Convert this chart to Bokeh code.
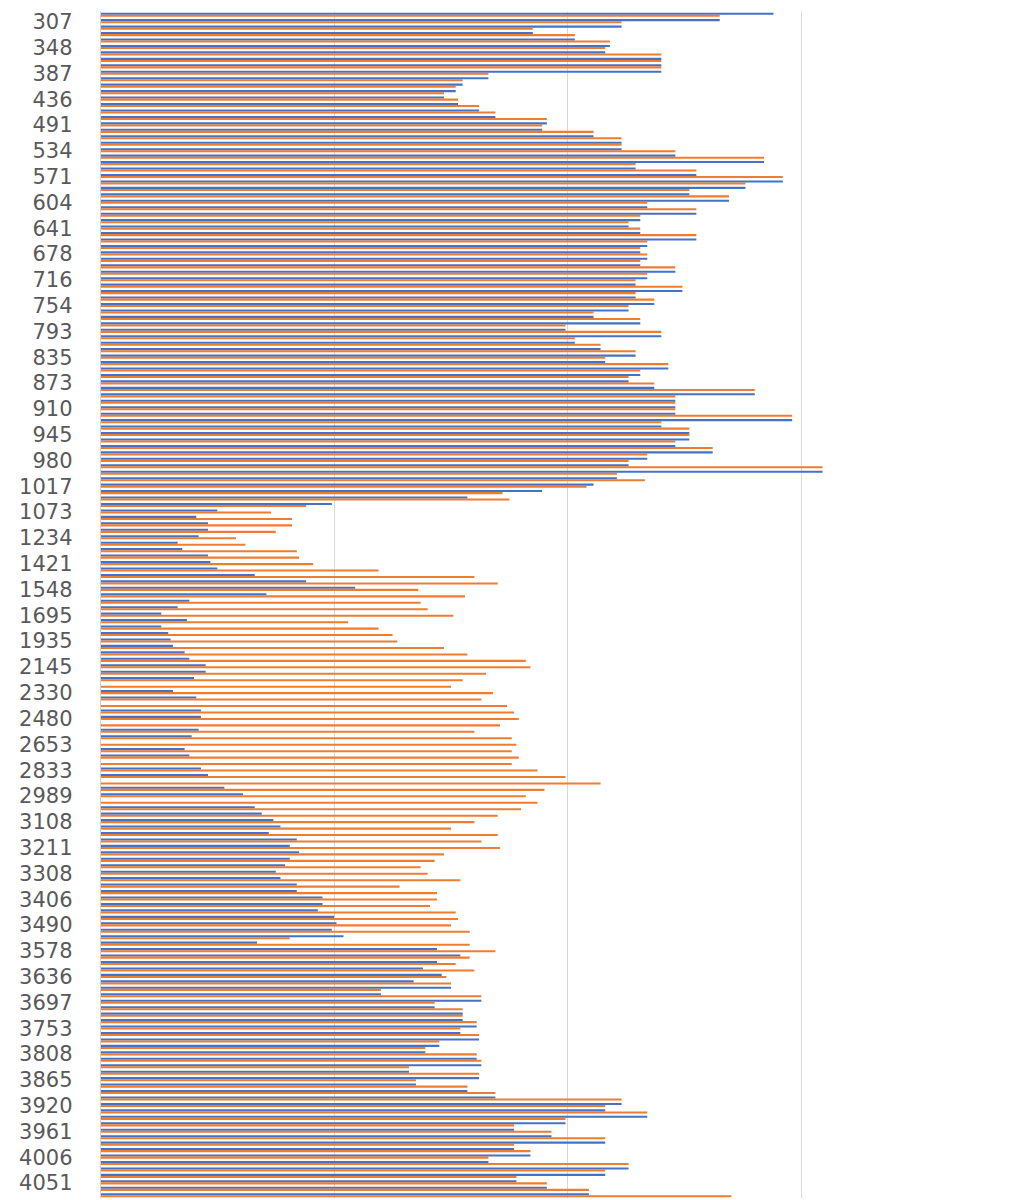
from bokeh.plotting import figure
from bokeh.models import Range1d, FixedTicker, Grid, ColumnDataSource
from bokeh.transform import dodge
from bokeh.embed import file_html
from bokeh.resources import INLINE

tick_labels = ["307", "348", "387", "436", "491", "534", "571", "604", "641", "678",
               "716", "754", "793", "835", "873", "910", "945", "980", "1017", "1073",
               "1234", "1421", "1548", "1695", "1935", "2145", "2330", "2480", "2653", "2833",
               "2989", "3108", "3211", "3308", "3406", "3490", "3578", "3636", "3697", "3753",
               "3808", "3865", "3920", "3961", "4006", "4051"]

blue = [288, 265, 223, 185, 203, 218, 216, 240, 240, 240,
        166, 155, 152, 147, 153, 162, 169, 191, 189, 211,
        223, 223, 246, 284, 229, 255, 292, 276, 252, 269,
        234, 255, 231, 226, 231, 255, 234, 231, 234, 231,
        246, 234, 229, 249, 229, 237, 226, 211, 231, 199,
        240, 203, 214, 229, 216, 243, 231, 226, 237, 280,
        246, 246, 246, 296, 240, 252, 252, 246, 262, 234,
        226, 309, 221, 211, 189, 157, 99, 50, 41, 46,
        46, 42, 33, 35, 46, 47, 50, 66, 88, 109,
        71, 38, 33, 26, 37, 26, 29, 30, 31, 36,
        38, 45, 45, 40, 0, 31, 41, 0, 43, 43,
        0, 42, 39, 0, 36, 38, 0, 43, 46, 0,
        53, 61, 0, 66, 69, 74, 77, 72, 84, 81,
        85, 81, 79, 75, 77, 84, 84, 95, 95, 93,
        100, 101, 99, 104, 67, 144, 154, 144, 138, 146,
        134, 150, 120, 163, 143, 155, 155, 161, 154, 162,
        145, 139, 161, 163, 132, 162, 135, 157, 169, 223,
        216, 234, 199, 177, 193, 216, 177, 184, 166, 226,
        216, 178, 191, 209]

orange = [265, 223, 185, 203, 218, 216, 240, 240, 240, 166,
          155, 152, 147, 153, 162, 169, 191, 189, 211, 223,
          223, 246, 284, 229, 255, 292, 276, 252, 269, 234,
          255, 231, 226, 231, 255, 234, 231, 234, 231, 246,
          234, 229, 249, 229, 237, 226, 211, 231, 199, 240,
          203, 214, 229, 216, 243, 231, 226, 237, 280, 246,
          246, 246, 296, 240, 252, 252, 246, 262, 234, 226,
          309, 221, 233, 208, 172, 175, 88, 73, 82, 82,
          75, 58, 62, 84, 85, 91, 119, 160, 170, 136,
          156, 137, 140, 151, 106, 119, 125, 127, 147, 157,
          182, 184, 165, 155, 150, 168, 163, 174, 177, 179,
          171, 160, 176, 178, 176, 179, 176, 187, 199, 214,
          190, 182, 187, 180, 170, 160, 150, 170, 163, 171,
          147, 143, 137, 140, 154, 128, 144, 144, 141, 152,
          153, 150, 158, 81, 158, 169, 158, 152, 160, 148,
          150, 120, 163, 143, 155, 155, 161, 154, 162, 145,
          139, 161, 163, 132, 162, 135, 157, 169, 223, 216,
          234, 199, 177, 193, 216, 177, 184, 166, 226, 216,
          178, 191, 209, 270]

grid_values = [100, 200, 300]

n = len(blue)
src = ColumnDataSource(dict(cat=list(range(n)), blue=blue, orange=orange))

p = figure(width=1023, height=1199, output_backend="svg", toolbar_location=None,
           x_range=Range1d(0, 395), y_range=Range1d(n - 0.5, -0.5),
           x_axis_location=None, min_border_left=100, min_border_right=0,
           min_border_top=11, min_border_bottom=1)
p.outline_line_color = None
p.background_fill_color = "white"
for g in p.grid:
    g.visible = False
p.add_layout(Grid(dimension=0, ticker=FixedTicker(ticks=grid_values),
                  grid_line_color="#d9d9d9", grid_line_width=1))

p.hbar(y=dodge("cat", -0.16, range=p.y_range), left=0, right="blue", height=0.32,
       source=src, fill_color="#4472C4", line_color=None)
p.hbar(y=dodge("cat", 0.16, range=p.y_range), left=0, right="orange", height=0.32,
       source=src, fill_color="#ED7D31", line_color=None)

tick_pos = list(range(1, n, 4))[:len(tick_labels)]
ax = p.yaxis[0]
ax.ticker = FixedTicker(ticks=tick_pos)
ax.major_label_overrides = {pos: lbl for pos, lbl in zip(tick_pos, tick_labels)}
ax.axis_line_color = "#d0d0d0"
ax.major_tick_line_color = None
ax.major_tick_out = 0
ax.major_tick_in = 0
ax.minor_tick_line_color = None
ax.major_label_standoff = 28
ax.major_label_text_font = "DejaVu Sans"
ax.major_label_text_font_size = "21px"
ax.major_label_text_color = "#595959"

open("out.html", "w").write(file_html(p, INLINE))
